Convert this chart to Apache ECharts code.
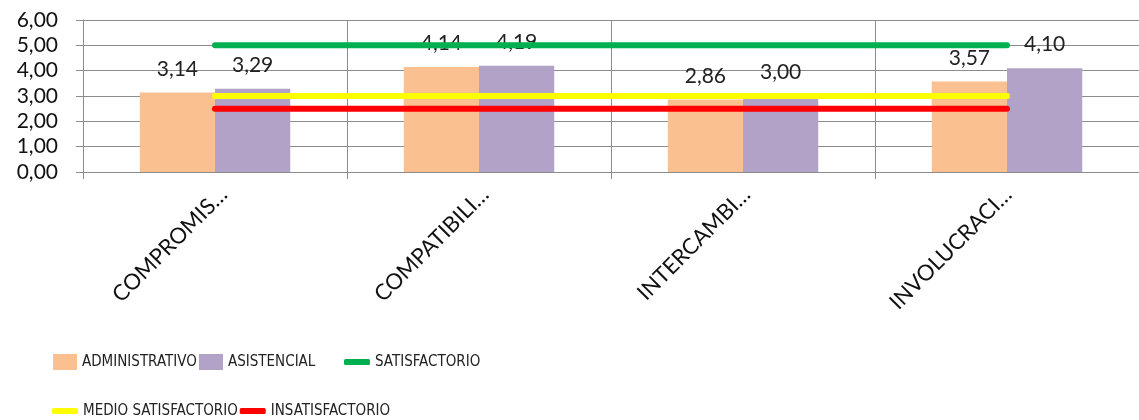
<!DOCTYPE html>
<html>
<head>
<meta charset="utf-8">
<script src="https://cdn.jsdelivr.net/npm/echarts@6/dist/echarts.min.js"></script>
<style>
  html, body { margin: 0; padding: 0; background: #fff; }
  #chart { width: 1139px; height: 420px; }
</style>
</head>
<body>
<div id="chart"></div>
<script>
// Dimensiones evaluadas
const categories = ['COMPROMIS…', 'COMPATIBILI…', 'INTERCAMBI…', 'INVOLUCRACI…'];

// Promedios por grupo
const administrativo = [3.14, 4.14, 2.86, 3.57];
const asistencial = [3.29, 4.19, 3.00, 4.10];

// Niveles de referencia
const satisfactorio = [5, 5, 5, 5];
const medioSatisfactorio = [3, 3, 3, 3];
const insatisfactorio = [2.5, 2.5, 2.5, 2.5];

// Eje de valores
const yTicks = { min: 0, max: 6, interval: 1 };

const fmt = v => v.toFixed(2).replace('.', ',');
const mainFont = 'Lato, "Open Sans", sans-serif';
const legendFont = '"Liberation Sans Narrow", "DejaVu Sans Condensed", sans-serif';
const gridColor = '#8c8c8c';

const barLabel = {
  show: true,
  position: 'top',
  distance: 13,
  fontFamily: mainFont,
  fontSize: 21,
  color: '#222',
  formatter: p => fmt(p.value)
};

const legendBase = {
  padding: 0,
  textStyle: { fontFamily: legendFont, fontSize: 15, color: '#222', lineHeight: 18 },
  selectedMode: false
};

const chart = echarts.init(document.getElementById('chart'), null, { renderer: 'canvas' });
chart.setOption({
  animation: false,
  backgroundColor: '#fff',
  grid: [
    // plot area
    { left: 83, right: -7, top: 20, bottom: 248, containLabel: false },
    // same band layout, nudged right, carrying only the rotated category names
    { left: 93, right: -17, top: 20, bottom: 248, containLabel: false }
  ],
  xAxis: [
    {
      type: 'category',
      gridIndex: 0,
      data: categories,
      boundaryGap: true,
      axisLine: { show: true, lineStyle: { color: gridColor, width: 1 } },
      axisTick: { show: true, length: 7, lineStyle: { color: gridColor } },
      splitLine: { show: true, lineStyle: { color: gridColor, width: 1 } },
      axisLabel: { show: false }
    },
    {
      type: 'category',
      gridIndex: 1,
      data: categories,
      boundaryGap: true,
      axisLine: { show: false },
      axisTick: { show: false },
      splitLine: { show: false },
      axisLabel: {
        rotate: 45,
        margin: 19,
        fontFamily: mainFont,
        fontSize: 22,
        color: '#111'
      }
    }
  ],
  yAxis: [
    {
      type: 'value',
      gridIndex: 0,
      min: yTicks.min,
      max: yTicks.max,
      interval: yTicks.interval,
      axisLine: { show: true, lineStyle: { color: gridColor, width: 1 } },
      axisTick: { show: true, length: 7, lineStyle: { color: gridColor } },
      splitLine: { show: true, lineStyle: { color: gridColor, width: 1 } },
      axisLabel: {
        margin: 25,
        fontFamily: mainFont,
        fontSize: 21,
        color: '#111',
        formatter: v => fmt(v)
      }
    },
    {
      type: 'value',
      gridIndex: 1,
      min: yTicks.min,
      max: yTicks.max,
      interval: yTicks.interval,
      show: false
    }
  ],
  legend: [
    Object.assign({}, legendBase, {
      data: ['ADMINISTRATIVO'], left: 53, top: 353,
      itemWidth: 24, itemHeight: 16, icon: 'rect'
    }),
    Object.assign({}, legendBase, {
      data: ['ASISTENCIAL'], left: 199, top: 353,
      itemWidth: 24, itemHeight: 16, icon: 'rect'
    }),
    Object.assign({}, legendBase, {
      data: ['SATISFACTORIO'], left: 344, top: 353,
      itemWidth: 26, itemHeight: 6, icon: 'roundRect', itemGap: 2
    }),
    Object.assign({}, legendBase, {
      data: ['MEDIO SATISFACTORIO', 'INSATISFACTORIO'], left: 52, top: 402,
      itemWidth: 26, itemHeight: 6, icon: 'roundRect', itemGap: 2
    })
  ],
  series: [
    {
      name: 'ADMINISTRATIVO', type: 'bar', data: administrativo,
      barGap: '0%', barCategoryGap: '43%',
      itemStyle: { color: '#FAC090' },
      label: barLabel, z: 2
    },
    {
      name: 'ASISTENCIAL', type: 'bar', data: asistencial,
      barGap: '0%', barCategoryGap: '43%',
      itemStyle: { color: '#B3A2C7' },
      label: barLabel, z: 2
    },
    {
      name: 'SATISFACTORIO', type: 'line', data: satisfactorio,
      symbol: 'none', itemStyle: { color: '#00B050' },
      lineStyle: { color: '#00B050', width: 6, cap: 'round' }, z: 3
    },
    {
      name: 'MEDIO SATISFACTORIO', type: 'line', data: medioSatisfactorio,
      symbol: 'none', itemStyle: { color: '#FFFF00' },
      lineStyle: { color: '#FFFF00', width: 6, cap: 'round' }, z: 3
    },
    {
      name: 'INSATISFACTORIO', type: 'line', data: insatisfactorio,
      symbol: 'none', itemStyle: { color: '#FF0000' },
      lineStyle: { color: '#FF0000', width: 6, cap: 'round' }, z: 3
    }
  ]
});
</script>
</body>
</html>
